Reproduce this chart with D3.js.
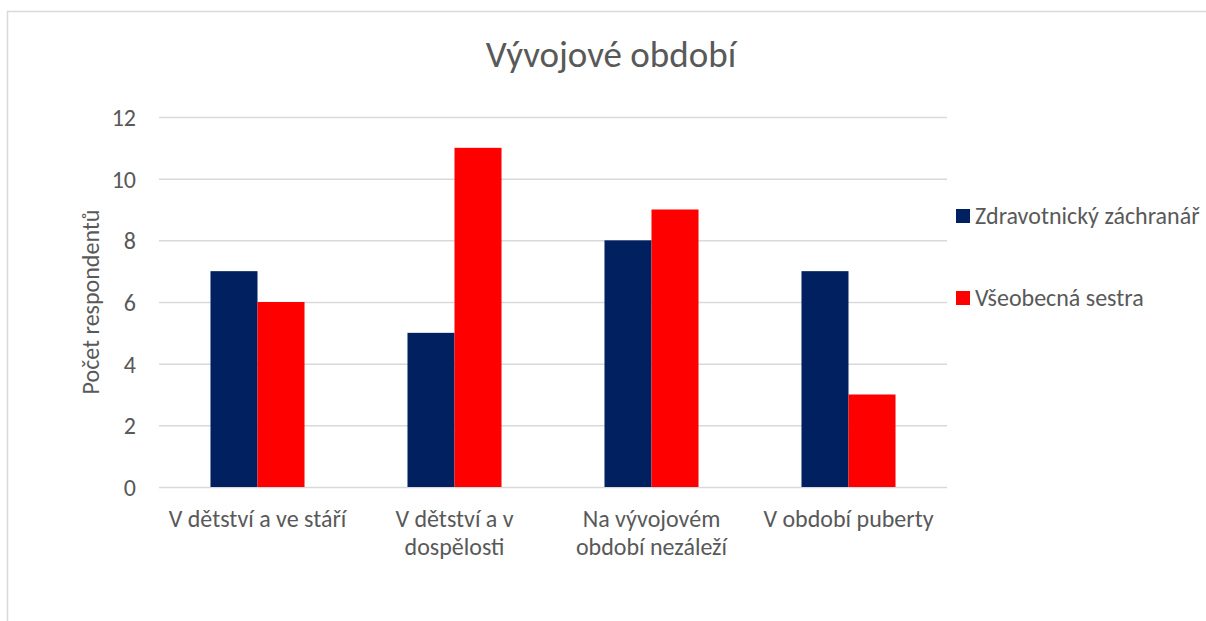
<!DOCTYPE html>
<html>
<head>
<meta charset="utf-8">
<title>Vývojové období</title>
<style>
body {
	margin: 0;
	background: #fff;
}
svg text {
	font-family: Calibri, Carlito, Lato, sans-serif;
	fill: #595959;
}
</style>
<script src="https://cdn.jsdelivr.net/npm/d3@7"></script>
</head>
<body>
<div id="chart"></div>
<script>
	// data
	var title = "Vývojové období";
	var yTitle = "Počet respondentů";
	var categories = ["V dětství a ve stáří", "V dětství a v\ndospělosti", "Na vývojovém\nobdobí nezáleží", "V období puberty"];
	var seriesNames = ["Zdravotnický záchranář", "Všeobecná sestra"];
	var zachranar = [7, 5, 8, 7];
	var sestra = [6, 11, 9, 3];
	var yTicks = [0, 2, 4, 6, 8, 10, 12];
	var colors = ["#002060", "#FF0000"];

	var series = [zachranar, sestra];
	var width = 1206, height = 621;
	var plot = {left: 159, right: 947, top: 117, bottom: 487};
	var labelSize = 24;

	var svg = d3.select("#chart").append("svg")
		.attr("width", width)
		.attr("height", height);

	// chart frame (right and bottom edges fall outside the picture)
	svg.append("rect")
		.attr("x", 7.5).attr("y", 11.5)
		.attr("width", width + 10).attr("height", height + 10)
		.attr("fill", "none")
		.attr("stroke", "#d9d9d9")
		.attr("stroke-width", 1.5);

	var x0 = d3.scaleBand()
		.domain(categories)
		.range([plot.left, plot.right])
		.paddingInner(0.5227)
		.paddingOuter(0.26135);

	var x1 = d3.scaleBand()
		.domain(d3.range(series.length))
		.range([0, x0.bandwidth()]);

	var y = d3.scaleLinear()
		.domain([0, 12])
		.range([plot.bottom, plot.top]);

	// gridlines + y labels
	var yAxis = d3.axisLeft(y)
		.tickValues(yTicks)
		.tickSize(-(plot.right - plot.left))
		.tickPadding(23);

	var gy = svg.append("g")
		.attr("transform", "translate(" + plot.left + ",0)")
		.call(yAxis);
	gy.select(".domain").remove();
	gy.selectAll(".tick line")
		.attr("stroke", "#d9d9d9")
		.attr("stroke-width", 1.5);
	gy.selectAll(".tick text")
		.attr("font-size", labelSize)
		.attr("dy", "0.35em");

	// bars
	var groups = svg.selectAll("g.cat")
		.data(categories)
		.enter().append("g")
			.attr("class", "cat")
			.attr("transform", function (d) { return "translate(" + x0(d) + ",0)"; });

	groups.selectAll("rect")
		.data(function (d, i) { return series.map(function (s, j) { return {s: j, v: s[i]}; }); })
		.enter().append("rect")
			.attr("x", function (d) { return x1(d.s); })
			.attr("y", function (d) { return y(d.v); })
			.attr("width", x1.bandwidth())
			.attr("height", function (d) { return y(0) - y(d.v); })
			.attr("fill", function (d) { return colors[d.s]; });

	// category labels
	var xAxis = d3.axisBottom(x0).tickSize(0).tickFormat("");
	var gx = svg.append("g")
		.attr("transform", "translate(0," + plot.bottom + ")")
		.call(xAxis);
	gx.select(".domain").remove();
	gx.selectAll(".tick").each(function (d) {
		var t = d3.select(this).append("text")
			.attr("text-anchor", "middle")
			.attr("font-size", labelSize)
			.attr("y", 40);
		d.split("\n").forEach(function (line, i) {
			t.append("tspan")
				.attr("x", 0)
				.attr("dy", i == 0 ? 0 : 28)
				.text(line);
		});
	});

	// title
	svg.append("text")
		.attr("x", 611)
		.attr("y", 67)
		.attr("text-anchor", "middle")
		.attr("font-size", 37)
		.text(title);

	// y axis title
	svg.append("text")
		.attr("transform", "translate(99," + (plot.top + plot.bottom) / 2 + ") rotate(-90)")
		.attr("text-anchor", "middle")
		.attr("font-size", labelSize)
		.text(yTitle);

	// legend
	var legend = svg.selectAll("g.legend")
		.data(seriesNames)
		.enter().append("g")
			.attr("class", "legend")
			.attr("transform", function (d, i) { return "translate(956," + (216 + i * 82) + ")"; });
	legend.append("rect")
		.attr("y", -7)
		.attr("width", 14)
		.attr("height", 14)
		.attr("fill", function (d, i) { return colors[i]; });
	legend.append("text")
		.attr("x", 19)
		.attr("dy", "0.35em")
		.attr("font-size", labelSize)
		.text(function (d) { return d; });
</script>
</body>
</html>
